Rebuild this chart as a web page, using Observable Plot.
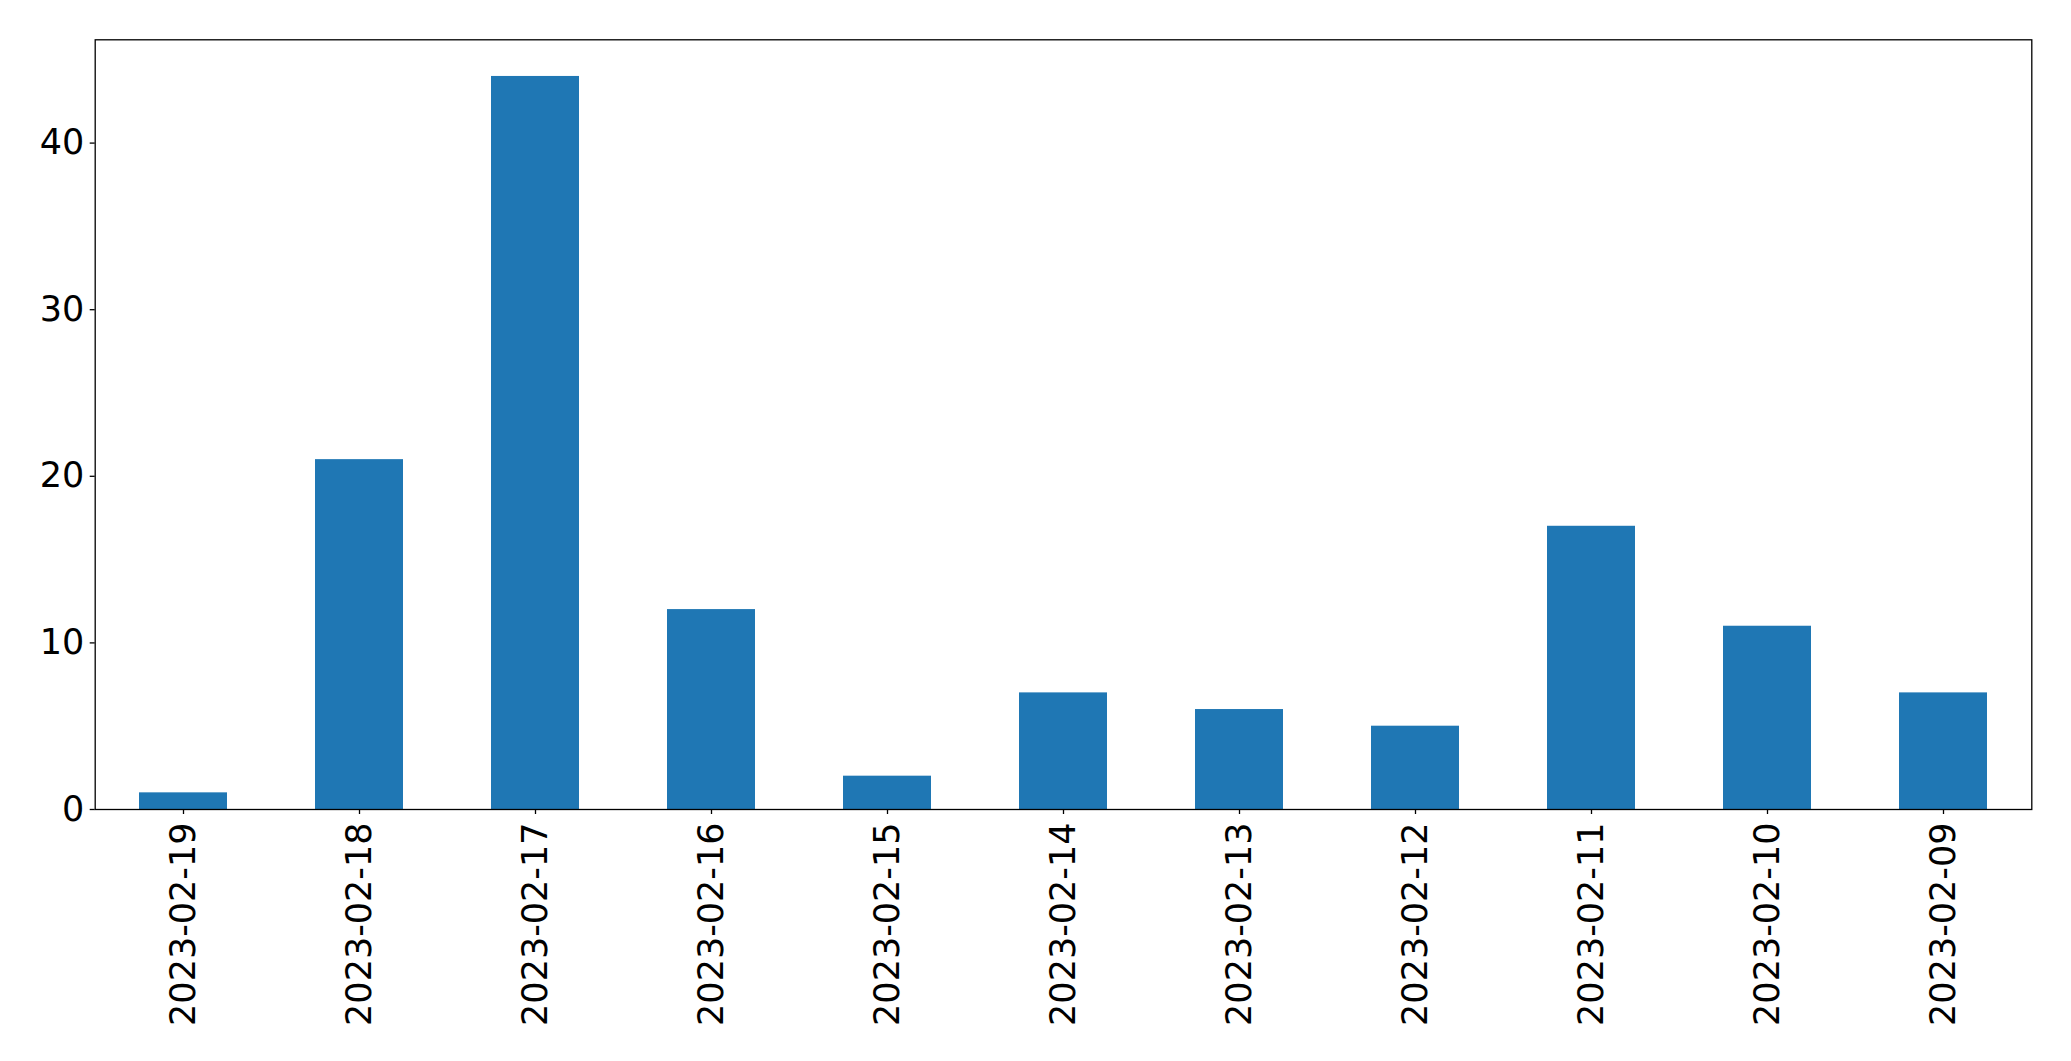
<!DOCTYPE html>
<html>
<head>
<meta charset="utf-8">
<script src="https://cdn.jsdelivr.net/npm/d3@7"></script>
<script src="https://cdn.jsdelivr.net/npm/@observablehq/plot@0.6"></script>
<style>
  html, body { margin: 0; padding: 0; background: #fff; overflow: hidden; }
  svg { display: block; }
</style>
</head>
<body>
<div id="chart"></div>
<script>
const dates = ["2023-02-19","2023-02-18","2023-02-17","2023-02-16","2023-02-15","2023-02-14","2023-02-13","2023-02-12","2023-02-11","2023-02-10","2023-02-09"];
const counts = [1, 21, 44, 12, 2, 7, 6, 5, 17, 11, 7];
const yTicks = [0, 10, 20, 30, 40];

const data = dates.map((d, i) => ({date: d, count: counts[i]}));

const chart = Plot.plot({
  width: 2071,
  height: 1061,
  marginLeft: 94.7,
  marginRight: 39.7,
  marginTop: 39.3,
  marginBottom: 252,
  style: {fontFamily: "DejaVu Sans", fontSize: "35px", color: "#000", background: "#fff"},
  x: {domain: dates, paddingInner: 0.5, paddingOuter: 0.25, label: null},
  y: {domain: [0, 46.2], label: null},
  marks: [
    Plot.barY(data, {x: "date", y: "count", fill: "#1f77b4", inset: 0}),
    Plot.frame({stroke: "#000", strokeWidth: 1.3}),
    Plot.axisY({ticks: yTicks, tickSize: 5, tickPadding: 6, fontSize: 35, label: null, stroke: "#000", strokeWidth: 1.3}),
    Plot.axisX({tickSize: 5, tickRotate: -90, tickPadding: 8, fontSize: 35, label: null, stroke: "#000", strokeWidth: 1.3})
  ]
});
document.getElementById("chart").appendChild(chart);
</script>
</body>
</html>
